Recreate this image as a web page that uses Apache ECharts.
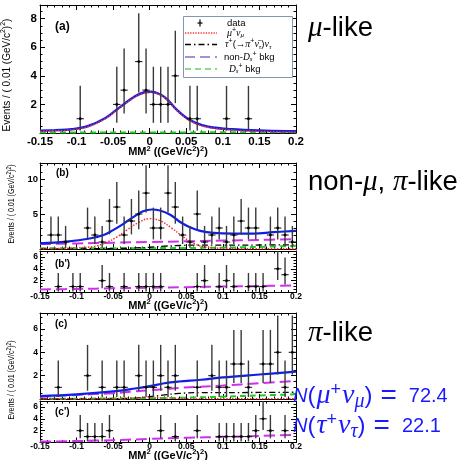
<!DOCTYPE html>
<html><head><meta charset="utf-8">
<script src="https://cdn.jsdelivr.net/npm/echarts@6.0.0/dist/echarts.min.js"></script>
<style>html,body{margin:0;padding:0;background:#fff;}#c{width:461px;height:460px;}</style>
</head><body><div id="c"></div>
<script>
// ================= DATA =================
const xTickLabels = ['-0.15','-0.1','-0.05','0','0.05','0.1','0.15','0.2'];
// Poisson 68% interval bounds per observed count (as drawn)
const poissonLow  = [0, 0.17, 0.71, 1.37, 2.09, 2.84, 3.62, 4.42, 5.23];
const poissonHigh = [1.84, 3.30, 4.64, 5.92, 7.16, 8.38, 9.58, 10.77, 11.98];

// (a) mu-like
const aX = [-0.095,-0.045,-0.035,-0.015,-0.005,0.005,0.015,0.025,0.035,0.055,0.065,0.105,0.135];
const aN = [1,2,3,5,3,2,2,2,4,1,1,1,1];
const aCurveX = [-0.15,-0.13,-0.107,-0.084,-0.061,-0.046,-0.034,-0.021,-0.007,0.002,0.016,0.025,0.035,0.048,0.062,0.08,0.112,0.158,0.2];
const aTotal  = [0.16,0.2,0.26,0.49,1.03,1.6,2.07,2.54,2.85,2.89,2.66,2.3,1.72,1.14,0.72,0.44,0.26,0.16,0.12];
const aMu     = [0.12,0.16,0.22,0.45,0.99,1.56,2.03,2.5,2.81,2.85,2.62,2.26,1.68,1.1,0.68,0.4,0.21,0.1,0.06];
const aBkgX   = [-0.15,-0.05,0,0.05,0.1,0.15,0.2];
const aDs     = [0.03,0.03,0.03,0.04,0.05,0.05,0.06];

// (b) non-mu, pi-like
const bX = [-0.135,-0.125,-0.115,-0.085,-0.075,-0.065,-0.055,-0.045,-0.035,-0.025,-0.015,-0.005,0.005,0.015,0.025,0.035,0.045,0.055,0.065,0.075,0.085,0.095,0.105,0.115,0.125,0.135,0.145,0.165,0.175,0.185,0.195];
const bN = [2,2,1,3,2,1,4,6,2,4,5,8,3,3,8,6,2,1,5,1,2,3,1,2,4,3,3,2,3,2,1];
const bCurveX = [-0.15,-0.114,-0.082,-0.063,-0.05,-0.036,-0.022,-0.009,0.003,0.014,0.028,0.041,0.055,0.069,0.087,0.114,0.142,0.169,0.2];
const bTotal  = [0.8,1.05,1.5,2.0,2.7,3.6,4.6,5.4,5.65,5.5,4.9,3.9,3.1,2.6,2.3,2.2,2.2,2.4,2.6];
const bMuX    = [-0.15,-0.1,-0.075,-0.06,-0.045,-0.03,-0.015,0,0.015,0.03,0.045,0.06,0.075,0.1,0.15,0.2];
const bMu     = [0.05,0.15,0.4,0.9,1.7,2.8,3.8,4.35,4.0,3.0,1.8,0.8,0.3,0.1,0.03,0.02];
const bBkgX   = [-0.15,-0.1,-0.05,0,0.05,0.1,0.15,0.2];
const bNon    = [0.7,0.8,0.9,1.0,1.1,1.2,1.3,1.4];
const bDs     = [0.1,0.1,0.1,0.12,0.15,0.2,0.3,0.45];
const bTauX   = [-0.15,-0.1,-0.05,-0.02,0,0.02,0.04,0.06,0.1,0.15,0.2];
const bTau    = [0.02,0.03,0.06,0.15,0.25,0.4,0.5,0.55,0.55,0.57,0.6];

// (b') sideband
const bpX = [-0.125,-0.105,-0.095,-0.065,-0.055,-0.035,-0.015,-0.005,0.005,0.015,0.065,0.075,0.095,0.105,0.115,0.135,0.145,0.155,0.175,0.185];
const bpN = [1,1,1,2,1,1,1,1,1,1,1,2,1,2,1,1,1,1,4,3];
const bpNon = [0.5,0.6,0.7,0.8,0.9,1.0,1.1,1.2];

// (c) pi-like
const cX = [-0.125,-0.085,-0.065,-0.045,-0.035,-0.015,-0.005,0.005,0.015,0.025,0.035,0.065,0.085,0.095,0.105,0.115,0.125,0.135,0.155,0.165,0.175,0.185,0.195];
const cN = [1,2,1,1,1,2,1,1,2,1,2,1,2,1,1,3,3,1,3,3,4,1,4];
const cCurveX = [-0.15,-0.1,-0.05,-0.02,0,0.02,0.04,0.07,0.1,0.15,0.2];
const cTotal  = [0.25,0.4,0.65,0.9,1.1,1.35,1.5,1.65,1.85,2.1,2.35];
const cNon    = [0.2,0.35,0.5,0.65,0.75,0.85,0.95,1.05,1.15,1.35,1.55];
const cTau    = [0,0,0.02,0.08,0.2,0.35,0.48,0.55,0.55,0.56,0.58];
const cDs     = [0.03,0.03,0.04,0.05,0.06,0.08,0.1,0.14,0.2,0.3,0.4];
const cMu     = [0.02,0.03,0.05,0.08,0.1,0.08,0.05,0.03,0.02,0.02,0.02];

// (c') sideband
const cpX = [-0.095,-0.085,-0.075,-0.065,-0.055,0.015,0.035,0.065,0.095,0.105,0.115,0.125,0.135,0.145,0.155,0.165,0.185];
const cpN = [2,1,1,1,2,2,1,2,1,1,1,1,1,2,4,2,2];
const cpNon = [0.15,0.25,0.4,0.6,0.8,0.95,1.1,1.3];

// ================= LAYOUT =================
const FONT = '"Liberation Sans", Arial, Helvetica, sans-serif';
const SERIF = '"Liberation Serif", "DejaVu Serif", serif';
const L = 40, W = 256;
const panels = [
  {top:5,   h:128,  ymax:8.96, major:2, minor:0.5, yLabels:[2,4,6,8], yfs:11.5, ym:3, xLab:true,  xfs:11.5, xm:3},
  {top:163, h:86,   ymax:12.3, major:5, minor:1,   yLabels:[5,10],    yfs:9.5,  ym:2, xLab:false, xfs:9,   xm:0},
  {top:251, h:41.5, ymax:7,    major:2, minor:0.5, yLabels:[2,4,6],   yfs:8.5,  ym:2, xLab:true,  xfs:8.5, xm:0},
  {top:313, h:86,   ymax:7.37, major:2, minor:0.5, yLabels:[2,4,6],   yfs:8.5,  ym:2, xLab:false, xfs:9,   xm:0},
  {top:401, h:41.5, ymax:7,    major:2, minor:0.5, yLabels:[2,4,6],   yfs:8.5,  ym:2, xLab:true,  xfs:8.5, xm:0}
];
const C = {blue:'#0f1ee8', red:'#ff2b2b', mag:'#d030ee', green:'#22cc22', black:'#000'};

const grids = panels.map(p => ({left:L, top:p.top, width:W, height:p.h, show:false}));

const xAxes = [];
panels.forEach((p,i) => {
  xAxes.push({
    gridIndex:i, type:'value', min:-0.15, max:0.2, interval:0.05, position:'bottom',
    axisLine:{show:true, onZero:false, lineStyle:{color:'#000', width:1}},
    axisTick:{show:true, inside:true, length:5, lineStyle:{color:'#000', width:1}},
    minorTick:{show:true, splitNumber:5, length:2.5, lineStyle:{color:'#000', width:1}},
    splitLine:{show:false}, minorSplitLine:{show:false},
    axisLabel:{show:p.xLab, fontSize:p.xfs, fontWeight:'bold', fontFamily:FONT, color:'#000', margin:p.xm,
      formatter: v => xTickLabels[Math.round((v+0.15)/0.05)] || ''}
  });
});
panels.forEach((p,i) => {
  xAxes.push({
    gridIndex:i, type:'value', min:-0.15, max:0.2, interval:0.05, position:'top',
    axisLine:{show:true, onZero:false, lineStyle:{color:'#000', width:1}},
    axisTick:{show:true, inside:true, length:5, lineStyle:{color:'#000', width:1}},
    minorTick:{show:true, splitNumber:5, length:2.5, lineStyle:{color:'#000', width:1}},
    splitLine:{show:false}, minorSplitLine:{show:false}, axisLabel:{show:false}
  });
});

const yAxes = [];
function yAx(p, i, pos, interval, tickLen, withLine, withLabel) {
  return {
    gridIndex:i, type:'value', min:0, max:p.ymax, interval:interval, position:pos, offset:0,
    axisLine:{show:withLine, onZero:false, lineStyle:{color:'#000', width:1}},
    axisTick:{show:true, inside:true, length:tickLen, lineStyle:{color:'#000', width:1}},
    splitLine:{show:false},
    axisLabel:{show:withLabel, fontSize:p.yfs, fontWeight:'bold', fontFamily:FONT, color:'#000', margin:p.ym,
      formatter: v => { const r = Math.round(v*1000)/1000; return p.yLabels.indexOf(r) >= 0 ? String(r) : ''; }}
  };
}
panels.forEach((p,i) => yAxes.push(yAx(p, i, 'left',  p.major, 5,   true,  true)));
panels.forEach((p,i) => yAxes.push(yAx(p, i, 'left',  p.minor, 2.5, false, false)));
panels.forEach((p,i) => yAxes.push(yAx(p, i, 'right', p.major, 5,   true,  false)));
panels.forEach((p,i) => yAxes.push(yAx(p, i, 'right', p.minor, 2.5, false, false)));

// ================= SERIES =================
function curve(pi, xs, ys, color, width, dash, z) {
  return {
    type:'line', xAxisIndex:pi, yAxisIndex:pi, data: xs.map((x,k)=>[x, ys[k]]),
    smooth:0.4, showSymbol:false, symbol:'none', silent:true, clip:true, z:z,
    lineStyle:{color:color, width:width, type: dash || 'solid', cap:'butt'}
  };
}
function dataPts(pi, xs, ns) {
  const ymax = panels[pi].ymax;
  return {
    type:'custom', xAxisIndex:pi, yAxisIndex:pi, z:10, silent:true,
    data: xs.map((x,k)=>[x, ns[k], poissonLow[ns[k]], poissonHigh[ns[k]]]),
    encode:{x:0, y:1},
    renderItem(params, api) {
      const x = api.value(0), y = api.value(1);
      const lo = api.value(2), hi = Math.min(api.value(3), ymax);
      const c = api.coord([x, y]);
      const l = api.coord([x - 0.005, y]), r = api.coord([x + 0.005, y]);
      const t = api.coord([x, hi]), b = api.coord([x, lo]);
      return {type:'group', children:[
        {type:'line', shape:{x1:t[0], y1:t[1], x2:b[0], y2:b[1]}, style:{stroke:'#3a3a3a', lineWidth:1.4}},
        {type:'line', shape:{x1:l[0], y1:c[1], x2:r[0], y2:c[1]}, style:{stroke:'#222', lineWidth:1.1}},
        {type:'circle', shape:{cx:c[0], cy:c[1], r:1.4}, style:{fill:'#000'}}
      ]};
    }
  };
}
const MAGD = [11,5], GRD = [6,4], DD = [6,3,1.5,3], DOT = [1.5,1.5];
const series = [
  // (a)
  curve(0, aBkgX, aDs, C.green, 2, GRD, 3),
  curve(0, aCurveX, aTotal, C.blue, 2.4, null, 4),
  curve(0, aCurveX, aMu, C.red, 1.5, DOT, 5),
  dataPts(0, aX, aN),
  // (b)
  curve(1, bBkgX, bDs, C.green, 2, GRD, 3),
  curve(1, bTauX, bTau, C.black, 1.3, DD, 3),
  curve(1, bBkgX, bNon, C.mag, 2, MAGD, 3),
  curve(1, bCurveX, bTotal, C.blue, 2.2, null, 4),
  curve(1, bMuX, bMu, C.red, 1.5, DOT, 5),
  dataPts(1, bX, bN),
  // (b')
  curve(2, bBkgX, bpNon, C.mag, 2, MAGD, 3),
  dataPts(2, bpX, bpN),
  // (c)
  curve(3, cCurveX, cDs, C.green, 2, GRD, 3),
  curve(3, cCurveX, cTau, C.black, 1.3, DD, 3),
  curve(3, cCurveX, cMu, C.red, 1.3, DOT, 3),
  curve(3, cCurveX, cNon, C.mag, 2, MAGD, 3),
  curve(3, cCurveX, cTotal, C.blue, 2.2, null, 4),
  dataPts(3, cX, cN),
  // (c')
  curve(4, bBkgX, cpNon, C.mag, 2, MAGD, 3),
  dataPts(4, cpX, cpN)
];

// ================= TEXT / LEGEND =================
function T(x, y, text, st, extra) {
  return Object.assign({type:'text', x:x, y:y, silent:true, z:20,
    style:Object.assign({text:text, fill:'#000', fontFamily:FONT, fontSize:10, align:'left', verticalAlign:'middle'}, st)}, extra || {});
}
function sup(fs, up) { return {fontSize:fs, padding:[0,0,up,0], verticalAlign:'middle'}; }
function sub(fs, dn) { return {fontSize:fs, padding:[dn,0,0,0], verticalAlign:'middle'}; }

const evRich = (fs) => ({s: sup(fs*0.7, fs*0.7)});
const evText = 'Events / ( 0.01 (GeV/c{s|2}){s|2})';
const mmText = 'MM{s|2} ((GeV/c{s|2}){s|2})';
const mmRich = {s: Object.assign(sup(7.5, 7), {fontWeight:'bold'})};

const legRich = {
  g:{fontFamily:SERIF, fontStyle:'italic', fontSize:10},
  i:{fontFamily:SERIF, fontStyle:'italic', fontSize:9.5},
  p:sup(7,6),
  b:Object.assign(sub(7,5),{fontFamily:SERIF, fontStyle:'italic'})
};
const bigRich = {g:{fontFamily:SERIF, fontStyle:'italic', fontSize:29}};
const blueRich = {
  n:{fontStyle:'italic', fontSize:20},
  q:{fontSize:24},
  g:{fontFamily:SERIF, fontStyle:'italic', fontSize:28, padding:[0,0,0,1]},
  p:sup(18,12),
  b:Object.assign(sub(20,12),{fontFamily:SERIF, fontStyle:'italic'}),
  e:{fontSize:28, padding:[0,12,0,8]},
  d:{fontSize:20}
};

const graphics = [
  // axis titles
  T(7, 75, evText, {fontSize:10, align:'center', rich:evRich(10)}, {rotation:Math.PI/2}),
  T(12, 204, evText, {fontSize:9, align:'center', rich:evRich(9)}, {rotation:Math.PI/2, scaleX:0.78}),
  T(12, 380, evText, {fontSize:9, align:'center', rich:evRich(9)}, {rotation:Math.PI/2, scaleX:0.78}),
  T(168, 152, mmText, {fontSize:11, fontWeight:'bold', align:'center', rich:mmRich}),
  T(168, 305.5, mmText, {fontSize:11, fontWeight:'bold', align:'center', rich:mmRich}),
  T(168, 455.5, mmText, {fontSize:11, fontWeight:'bold', align:'center', rich:mmRich}),
  // panel tags
  T(55, 26.5, '(a)', {fontSize:12, fontWeight:'bold'}),
  T(56, 173, '(b)', {fontSize:10, fontWeight:'bold'}),
  T(55, 264, "(b')", {fontSize:10, fontWeight:'bold'}),
  T(55, 324.5, '(c)', {fontSize:10, fontWeight:'bold'}),
  T(55, 412.5, "(c')", {fontSize:10, fontWeight:'bold'}),
  // legend box
  {type:'rect', shape:{x:183.5, y:16.5, width:109, height:61}, style:{fill:'#fff', stroke:'#8596b2', lineWidth:1}, z:15, silent:true},
  {type:'line', shape:{x1:200, y1:19.5, x2:200, y2:26.5}, style:{stroke:'#000', lineWidth:1.2}, z:16, silent:true},
  {type:'line', shape:{x1:197.5, y1:23, x2:202.5, y2:23}, style:{stroke:'#000', lineWidth:1.2}, z:16, silent:true},
  {type:'line', shape:{x1:185, y1:33, x2:217, y2:33}, style:{stroke:C.red, lineWidth:1.3, lineDash:[1.3,1.3]}, z:16, silent:true},
  {type:'line', shape:{x1:185, y1:44.5, x2:217, y2:44.5}, style:{stroke:'#000', lineWidth:1.3, lineDash:[6,3,1.5,3]}, z:16, silent:true},
  {type:'line', shape:{x1:185, y1:57, x2:217, y2:57}, style:{stroke:'#a58fd9', lineWidth:2, lineDash:[10,5]}, z:16, silent:true},
  {type:'line', shape:{x1:185, y1:69, x2:217, y2:69}, style:{stroke:'#90d890', lineWidth:2, lineDash:[6,4]}, z:16, silent:true},
  T(227, 23, 'data', {fontSize:9.5}),
  T(227, 33, '{g|μ}{p|+}{g|ν}{b|μ}', {fontSize:9.5, rich:legRich}),
  T(225, 44.5, '{g|τ}{p|+}(→{g|π}{p|+}{g|ν̄}{b|τ}){g|ν}{b|τ}', {fontSize:9.5, rich:legRich}),
  T(224, 57, 'non-{i|D}{b|s}{p|+} bkg', {fontSize:9.5, rich:legRich}),
  T(229, 69, '{i|D}{b|s}{p|+} bkg', {fontSize:9.5, rich:legRich}),
  // right-side labels
  T(308, 28, '{g|μ}-like', {fontSize:27.5, rich:bigRich}),
  T(308, 182, 'non-{g|μ}, {g|π}-like', {fontSize:27.5, rich:bigRich}),
  T(308, 333, '{g|π}-like', {fontSize:27.5, rich:bigRich}),
  T(293, 396, '{n|N}{q|(}{g|μ}{p|+}{g|ν}{b|μ}{q|)}{e|=}{d|72.4}', {fontSize:20, fill:'#1a1aff', rich:blueRich}),
  T(293, 426, '{n|N}{q|(}{g|τ}{p|+}{g|ν}{b|τ}{q|)}{e|=}{d|22.1}', {fontSize:20, fill:'#1a1aff', rich:blueRich})
];

const chart = echarts.init(document.getElementById('c'), null, {renderer:'canvas'});
chart.setOption({
  animation:false, backgroundColor:'#fff',
  grid:grids, xAxis:xAxes, yAxis:yAxes, series:series, graphic:graphics
});
</script></body></html>
